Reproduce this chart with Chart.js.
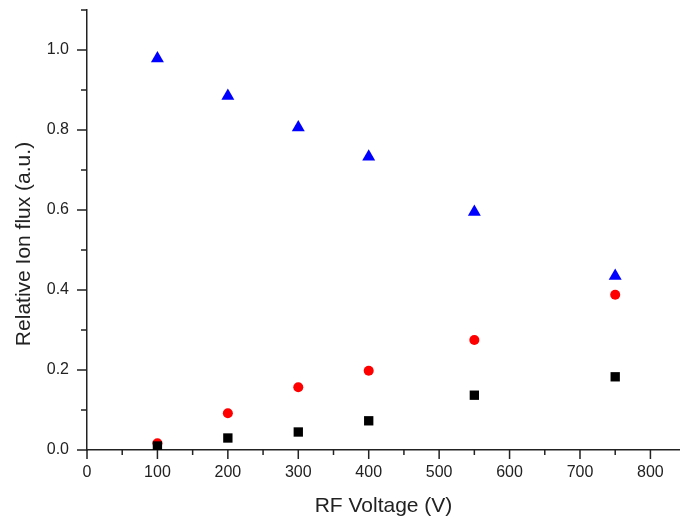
<!DOCTYPE html>
<html>
<head>
<meta charset="utf-8">
<style>
  body { margin: 0; background: #fff; }
  canvas { display: block; }
</style>
<script src="https://cdn.jsdelivr.net/npm/chart.js@4.4.0/dist/chart.umd.min.js"></script>
</head>
<body>
<canvas id="myChart" width="680" height="524"></canvas>
<script>
// RF voltage (V) on the x axis
const voltages = [100, 200, 300, 400, 550, 750];
// relative ion flux, one list per symbol
const squareFlux = [0.010, 0.030, 0.045, 0.073, 0.137, 0.183];
const circleFlux = [0.017, 0.092, 0.157, 0.198, 0.275, 0.388];
const triangleFlux = [0.979, 0.885, 0.806, 0.733, 0.595, 0.435];

const xMajorTicks = [0, 100, 200, 300, 400, 500, 600, 700, 800];
const xMinorTicks = [50, 150, 250, 350, 450, 550, 650, 750];
const yMajorTicks = [0, 0.2, 0.4, 0.6, 0.8, 1.0];
const yMinorTicks = [0.1, 0.3, 0.5, 0.7, 0.9, 1.1];

const axisColor = '#222';
const fontFamily = '"Liberation Sans", Arial, sans-serif';

function toPoints(xs, ys) {
    return xs.map((x, i) => ({ x: x, y: ys[i] }));
}

// Origin-style outward ticks (major + minor) and the y title
const axisDecor = {
    id: 'axisDecor',
    afterDraw(chart) {
        const ctx = chart.ctx;
        const x = chart.scales.x;
        const y = chart.scales.y;
        ctx.save();
        ctx.strokeStyle = axisColor;
        ctx.lineWidth = 1.5;
        ctx.beginPath();
        xMajorTicks.forEach(v => {
            const px = x.getPixelForValue(v);
            ctx.moveTo(px, x.top); ctx.lineTo(px, x.top + 9);
        });
        xMinorTicks.forEach(v => {
            const px = x.getPixelForValue(v);
            ctx.moveTo(px, x.top); ctx.lineTo(px, x.top + 5);
        });
        yMajorTicks.forEach(v => {
            const py = y.getPixelForValue(v);
            ctx.moveTo(y.right, py); ctx.lineTo(y.right - 10, py);
        });
        yMinorTicks.forEach(v => {
            const py = y.getPixelForValue(v);
            ctx.moveTo(y.right, py); ctx.lineTo(y.right - 6, py);
        });
        ctx.stroke();

        ctx.translate(24, 244);
        ctx.rotate(-Math.PI / 2);
        ctx.fillStyle = axisColor;
        ctx.font = '21px ' + fontFamily;
        ctx.textAlign = 'center';
        ctx.textBaseline = 'middle';
        ctx.fillText('Relative Ion flux (a.u.)', 0, 0);
        ctx.restore();
    }
};

const ctx = document.getElementById('myChart').getContext('2d');
new Chart(ctx, {
    type: 'scatter',
    data: {
        datasets: [
            {
                label: 'squares',
                data: toPoints(voltages, squareFlux),
                pointStyle: 'rect',
                pointRadius: 6.6,
                backgroundColor: '#000',
                borderColor: '#000',
                borderWidth: 0
            },
            {
                label: 'circles',
                data: toPoints(voltages, circleFlux),
                pointStyle: 'circle',
                pointRadius: 5,
                backgroundColor: '#ff0000',
                borderColor: '#ff0000',
                borderWidth: 0
            },
            {
                label: 'triangles',
                data: toPoints(voltages, triangleFlux),
                pointStyle: 'triangle',
                pointRadius: 7.5,
                backgroundColor: '#0000ff',
                borderColor: '#0000ff',
                borderWidth: 0
            }
        ]
    },
    options: {
        responsive: false,
        animation: false,
        layout: { autoPadding: false, padding: { top: 10, right: 0, left: 0, bottom: 0 } },
        plugins: {
            legend: { display: false },
            tooltip: { enabled: false }
        },
        scales: {
            x: {
                type: 'linear',
                position: 'bottom',
                min: 0,
                max: 842,
                afterBuildTicks: s => { s.ticks = xMajorTicks.map(v => ({ value: v })); },
                afterFit: s => {
                    s.height = 74;
                    s.paddingLeft = 0;
                    s.paddingRight = 0;
                },
                grid: { display: false, drawTicks: false },
                border: { display: true, color: axisColor, width: 1.5 },
                ticks: {
                    padding: 13,
                    color: axisColor,
                    font: { family: fontFamily, size: 16 },
                    maxRotation: 0
                },
                title: {
                    display: true,
                    text: 'RF Voltage (V)',
                    color: axisColor,
                    font: { family: fontFamily, size: 21 },
                    padding: { top: 0, bottom: 5 }
                }
            },
            y: {
                min: 0,
                max: 1.1,
                afterBuildTicks: s => { s.ticks = yMajorTicks.map(v => ({ value: v })); },
                afterFit: s => {
                    s.width = 87;
                    s.paddingTop = 0;
                    s.paddingBottom = 0;
                },
                grid: { display: false, drawTicks: false },
                border: { display: true, color: axisColor, width: 1.5 },
                ticks: {
                    padding: 18,
                    color: axisColor,
                    font: { family: fontFamily, size: 16 },
                    callback: v => v.toFixed(1)
                }
            }
        }
    },
    plugins: [axisDecor]
});
</script>
</body>
</html>
